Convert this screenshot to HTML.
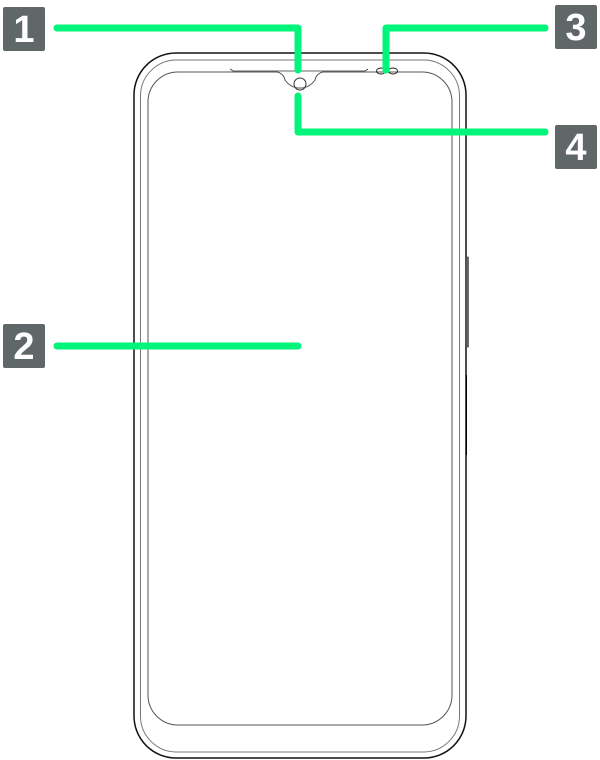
<!DOCTYPE html>
<html><head><style>
html,body{margin:0;padding:0;background:#fff;}
.b{position:absolute;width:42px;height:44px;background:#5f6769;color:#fff;font:bold 38px "Liberation Sans",sans-serif;text-align:center;line-height:46px;border-radius:2px;}
</style></head><body>
<div style="position:relative;width:600px;height:760px;overflow:hidden">
<svg width="600" height="760" style="position:absolute;left:0;top:0">
<rect x="134" y="53" width="332" height="705" rx="42" fill="none" stroke="#111" stroke-width="1.5"/>
<rect x="140.5" y="60" width="319" height="692" rx="36" fill="none" stroke="#777" stroke-width="1"/>
<path d="M178 72 H277 A10 10 0 0 1 285 80 A18 18 0 0 0 315 80 A10 10 0 0 1 323 72 H422 A30 30 0 0 1 452 102 V695 A30 30 0 0 1 422 725 H178 A30 30 0 0 1 148 695 V102 A30 30 0 0 1 178 72 Z" fill="none" stroke="#555" stroke-width="1"/>
<circle cx="300" cy="84" r="6" fill="none" stroke="#333" stroke-width="1"/>
<path d="M230 69 L233 71 H365 L368 69" fill="none" stroke="#333" stroke-width="0.8"/>
<ellipse cx="381" cy="71" rx="4.5" ry="3" fill="none" stroke="#222" stroke-width="1"/>
<ellipse cx="393" cy="71" rx="4.5" ry="3" fill="none" stroke="#222" stroke-width="1"/>
<rect x="466" y="257" width="2.5" height="90" fill="#666" stroke="#222" stroke-width="0.5"/>
<line x1="466.5" y1="375" x2="466.5" y2="455" stroke="#000" stroke-width="1"/>
<g stroke="#00f57a" stroke-width="7" fill="none" stroke-linecap="round" stroke-linejoin="round">
<path d="M57 28 H298 V70"/>
<path d="M57 346 H298"/>
<path d="M545 28 H386 V70"/>
<path d="M298 96 V132 H545"/>
</g>
</svg>
<div class="b" style="left:3px;top:7px">1</div>
<div class="b" style="left:3px;top:324px">2</div>
<div class="b" style="left:555px;top:5px">3</div>
<div class="b" style="left:555px;top:125px">4</div>
</div>
</body></html>
